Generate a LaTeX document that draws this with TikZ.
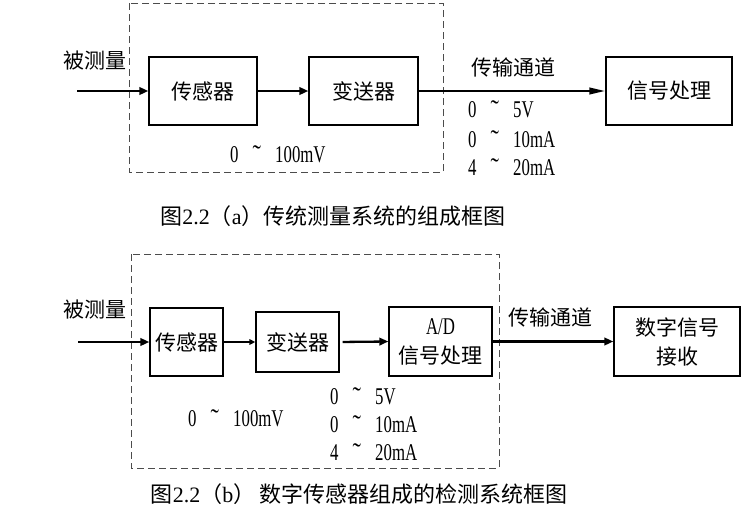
\documentclass[tikz,border=0pt]{standalone}
\usepackage{fontspec}
\usepackage{graphicx}
\usetikzlibrary{arrows.meta}
\newfontfamily\cjk{Noto Sans CJK SC}
\newfontfamily\numf[FakeStretch=0.7]{Liberation Serif}
\newfontfamily\capnum{Liberation Serif}
\newcommand{\rng}[2]{\makebox[22.5pt][l]{#1}\makebox[22.5pt][l]{\raisebox{-1pt}{\scalebox{1.5}[1.1]{˜}}}#2}
\tikzset{
  blk/.style={draw, line width=1.3pt, inner sep=0pt, align=center,
    font=\cjk\fontsize{21}{29}\selectfont},
  lbl/.style={inner sep=0pt, font=\cjk\fontsize{21}{25}\selectfont},
  numlbl/.style={inner sep=0pt, anchor=west, font=\numf\fontsize{24}{26}\selectfont},
  caplbl/.style={inner sep=0pt, font=\cjk\fontsize{22}{26}\selectfont},
  frame/.style={draw=black!70, line width=1pt, dash pattern=on 7pt off 4pt},
  thickarr/.style={line width=2.3pt, -{Triangle[length=9pt,width=7.5pt]}},
  longarr/.style={line width=2.3pt, -{Triangle[length=16pt,width=6.5pt]}},
  thinarr/.style={line width=1.4pt, -{Triangle[length=6pt,width=5.5pt]}}
}
\begin{document}
\begin{tikzpicture}[x=1pt,y=-1pt]
\useasboundingbox (0,0) rectangle (756,522);
% ---------- (a)
\draw[frame] (129,3) rectangle (443,172);
\node[blk, minimum width=108pt, minimum height=68pt] (s1) at (203,91) {传感器};
\node[blk, minimum width=109pt, minimum height=68pt] (t1) at (363.5,91) {变送器};
\node[blk, minimum width=126pt, minimum height=68pt] (p1) at (669,91) {信号处理};
\coordinate (inA) at (77,91);
\node[lbl] (mA) at (95,61) {被测量};
\node[lbl] (chA) at (513,67) {传输通道};
\draw[thickarr] (inA) -- (s1.west);
\draw[thickarr] (s1.east) -- (t1.west);
\draw[longarr] (t1.east) -- (p1.west);
\node[numlbl] (a1) at (468,110) {\rng{0}{5V}};
\node[numlbl] (a2) at (468,140) {\rng{0}{10mA}};
\node[numlbl] (a3) at (468,168) {\rng{4}{20mA}};
\node[numlbl] (a0) at (230,155) {\rng{0}{100mV}};
\node[caplbl] (capA) at (333,216) {图{\capnum 2.2}（{\capnum a}）传统测量系统的组成框图};
% ---------- (b)
\draw[frame] (131,254) rectangle (499,468);
\node[blk, minimum width=73pt, minimum height=68pt] (s2) at (186.5,342) {传感器};
\node[blk, minimum width=83pt, minimum height=60pt] (t2) at (297.5,342) {变送器};
\node[blk, minimum width=103pt, minimum height=69pt] (ad) at (440.5,341.5) {{\numf\fontsize{24}{26}\selectfont A/D}\\信号处理};
\node[blk, minimum width=126pt, minimum height=69pt] (rx) at (677,341.5) {数字信号\\接收};
\coordinate (inB) at (78,342);
\node[lbl] (mB) at (95,310) {被测量};
\node[lbl] (chB) at (550,317) {传输通道};
\draw[thickarr] (inB) -- (s2.west);
\draw[thinarr] (s2.east) -- (t2.west);
\draw[thickarr, shorten <=3pt] (t2.east) -- (ad.west);
\draw[thickarr] (ad.east) -- (rx.west);
\node[numlbl] (b1) at (330,397) {\rng{0}{5V}};
\node[numlbl] (b2) at (330,425) {\rng{0}{10mA}};
\node[numlbl] (b3) at (330,453) {\rng{4}{20mA}};
\node[numlbl] (b0) at (188,419) {\rng{0}{100mV}};
\node[caplbl] (capB) at (359,494) {图{\capnum 2.2}（{\capnum b}）\,数字传感器组成的检测系统框图};
\end{tikzpicture}
\end{document}
